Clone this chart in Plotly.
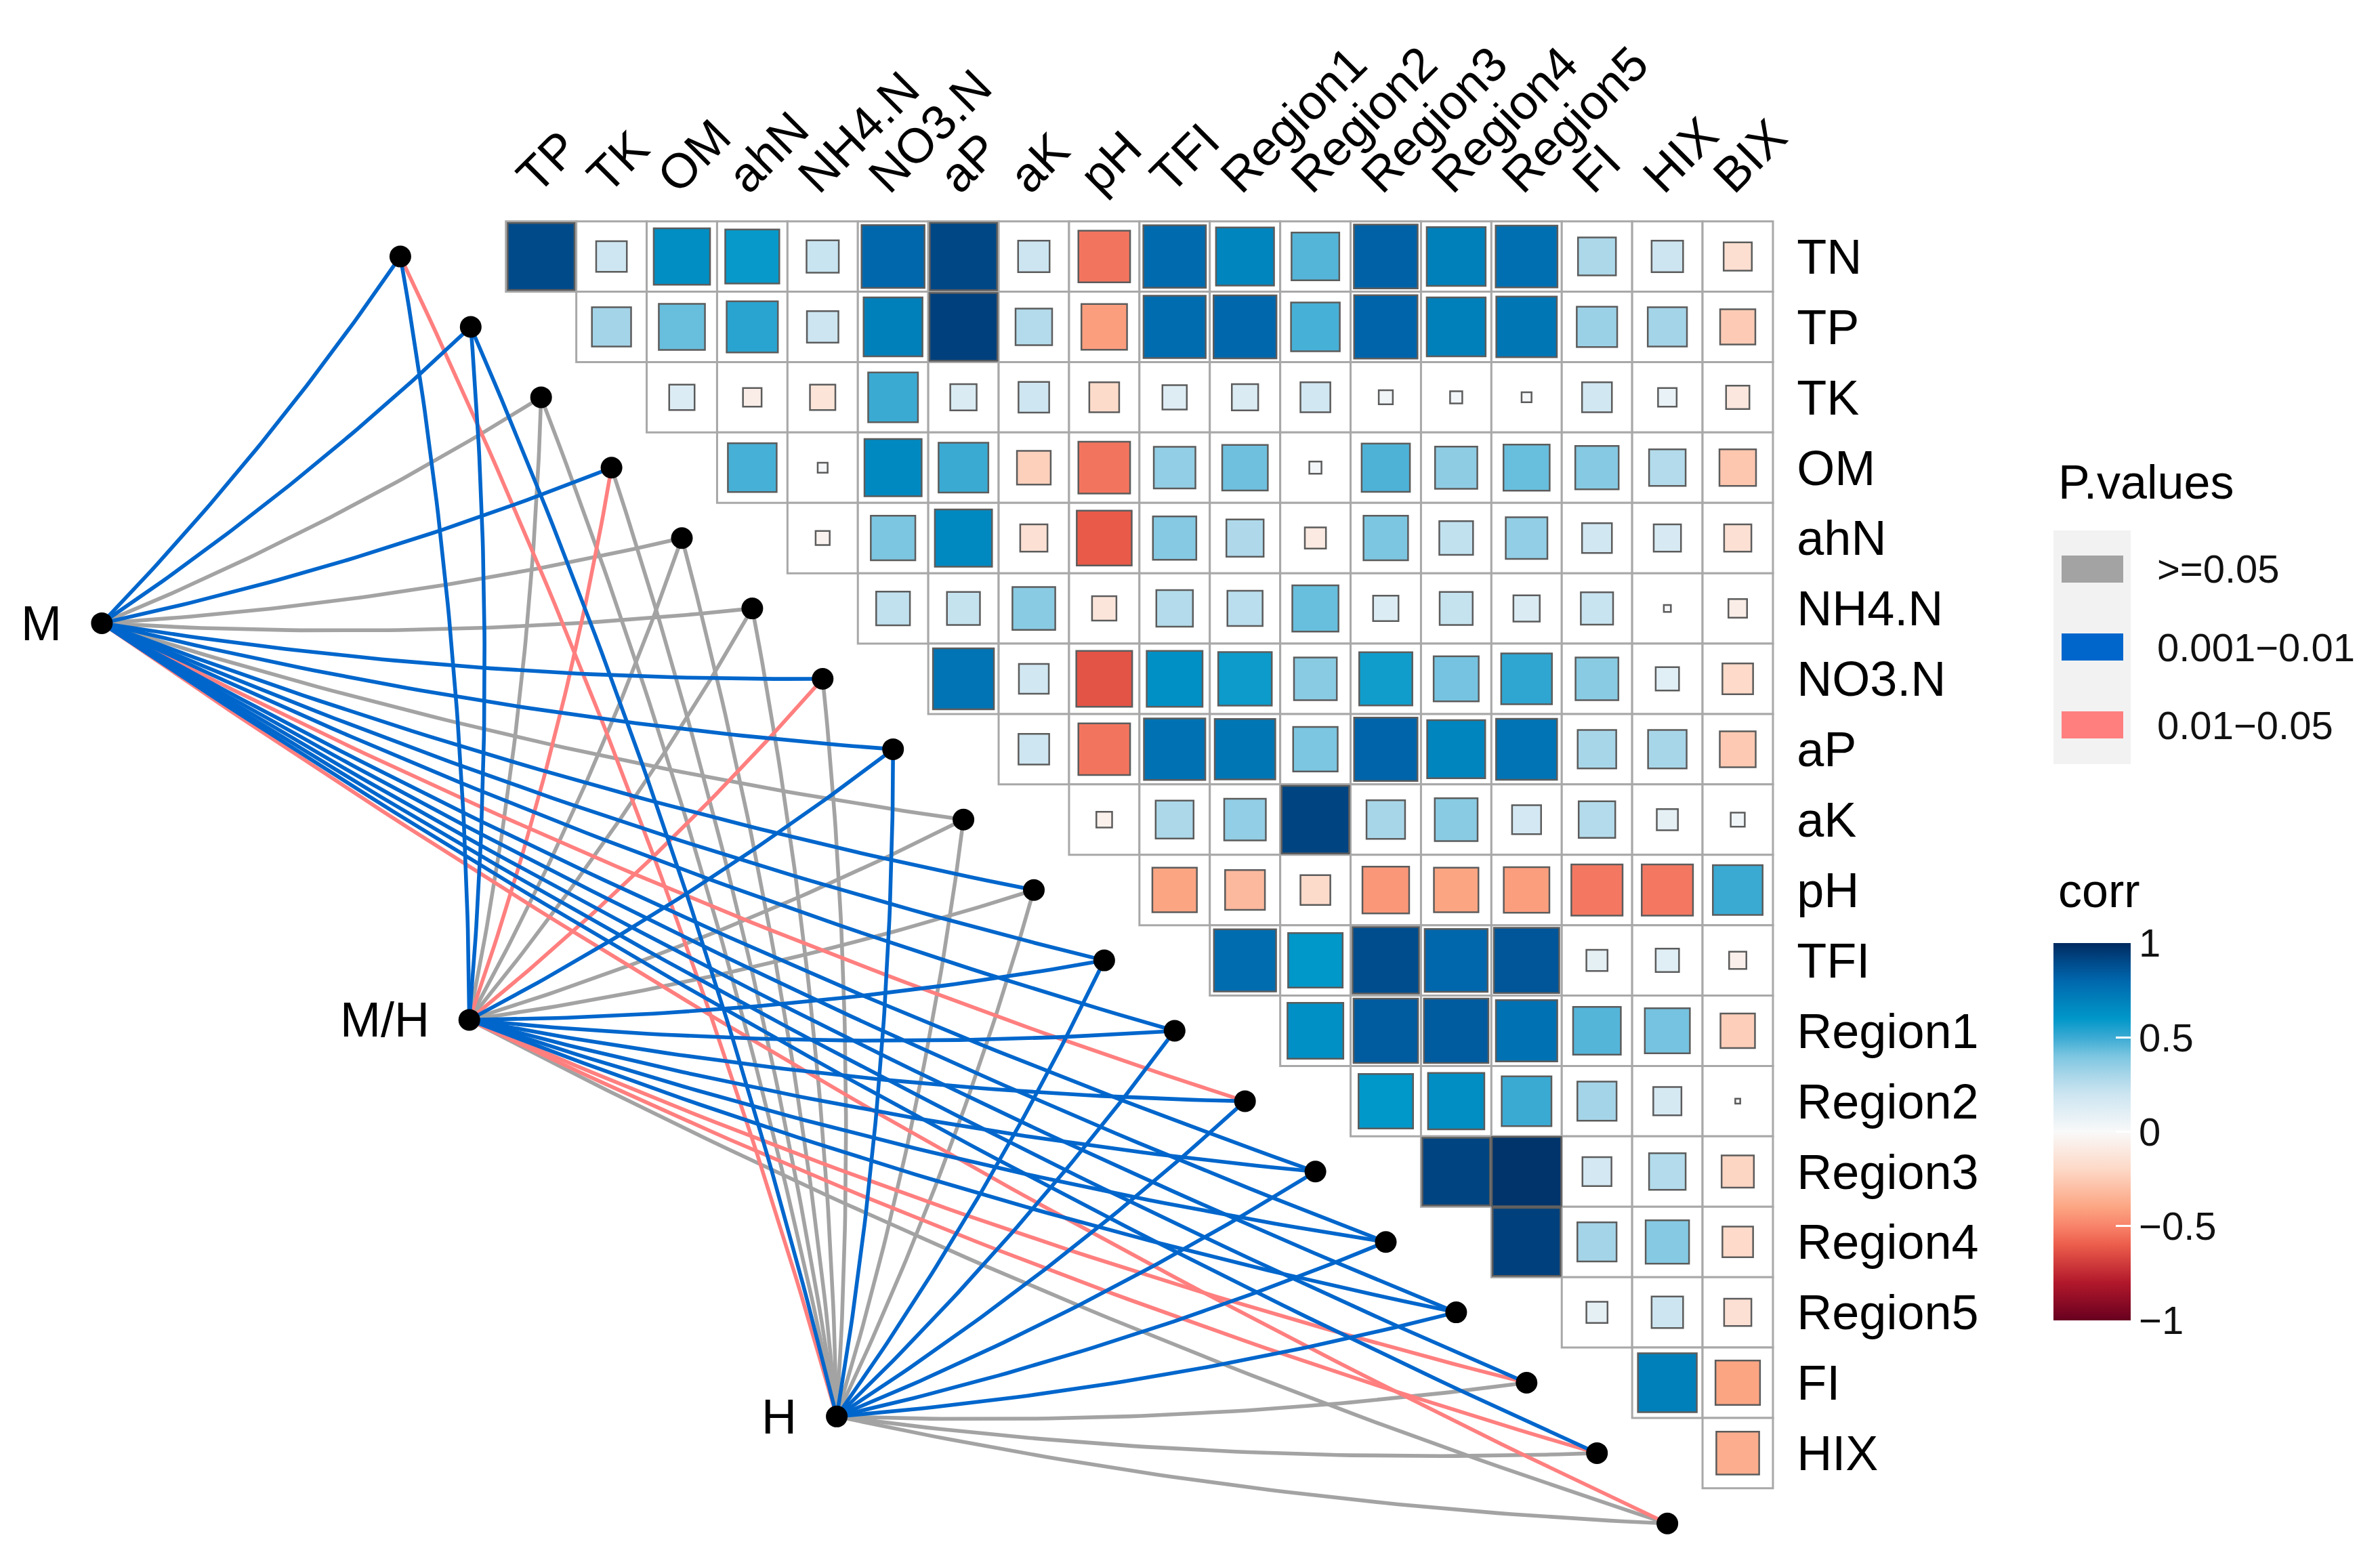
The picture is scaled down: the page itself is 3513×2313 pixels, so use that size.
import numpy as np
import plotly.graph_objects as go

# ---------------- data ----------------
row_vars = ["TN", "TP", "TK", "OM", "ahN", "NH4.N", "NO3.N", "aP", "aK", "pH",
            "TFI", "Region1", "Region2", "Region3", "Region4", "Region5", "FI", "HIX"]
col_vars = ["TP", "TK", "OM", "ahN", "NH4.N", "NO3.N", "aP", "aK", "pH", "TFI",
            "Region1", "Region2", "Region3", "Region4", "Region5", "FI", "HIX", "BIX"]

# upper-triangle correlations: row i holds columns i..17
corr_rows = [
    [0.90, 0.19, 0.64, 0.59, 0.21, 0.80, 0.91, 0.20, -0.54, 0.79, 0.68, 0.46, 0.82, 0.70, 0.77, 0.29, 0.20, -0.16],
    [0.31, 0.43, 0.53, 0.20, 0.70, 0.93, 0.27, -0.42, 0.78, 0.80, 0.48, 0.81, 0.70, 0.74, 0.33, 0.31, -0.25],
    [0.13, -0.07, -0.13, 0.50, 0.14, 0.19, -0.18, 0.12, 0.14, 0.18, 0.04, 0.03, 0.02, 0.18, 0.07, -0.11],
    [0.48, 0.02, 0.66, 0.50, -0.23, -0.54, 0.35, 0.42, 0.03, 0.47, 0.36, 0.43, 0.38, 0.27, -0.27],
    [-0.04, 0.40, 0.66, -0.15, -0.61, 0.38, 0.28, -0.09, 0.40, 0.23, 0.35, 0.18, 0.15, -0.15],
    [0.23, 0.22, 0.37, -0.12, 0.27, 0.25, 0.43, 0.13, 0.22, 0.14, 0.21, 0.01, -0.07],
    [0.75, 0.18, -0.63, 0.63, 0.58, 0.37, 0.57, 0.41, 0.52, 0.37, 0.11, -0.19],
    [0.19, -0.54, 0.76, 0.74, 0.40, 0.81, 0.68, 0.75, 0.30, 0.30, -0.26],
    [-0.05, 0.29, 0.35, 0.92, 0.30, 0.37, 0.17, 0.27, 0.09, 0.04],
    [-0.40, -0.32, -0.18, -0.44, -0.40, -0.42, -0.53, -0.53, 0.50],
    [0.78, 0.60, 0.89, 0.80, 0.86, 0.09, 0.11, -0.06],
    [0.63, 0.84, 0.84, 0.76, 0.46, 0.41, -0.24],
    [0.60, 0.64, 0.50, 0.31, 0.16, 0.005],
    [0.92, 0.97, 0.17, 0.27, -0.21],
    [0.93, 0.31, 0.38, -0.19],
    [0.09, 0.20, -0.15],
    [0.70, -0.40],
    [-0.37],
]

node_vars = row_vars + ["BIX"]
source_names = ["M", "M/H", "H"]
G, B, P = ">=0.05", "0.001\u22120.01", "0.01\u22120.05"
p_M = [B, B, G, B, G, G, B, B, G, B, B, B, P, B, B, B, B, B, P]
p_MH = [B, B, G, P, G, G, P, B, G, G, B, B, B, B, B, B, P, P, G]
p_H = [P, B, G, G, G, G, G, B, G, G, B, B, B, B, B, B, G, G, G]
p_by_source = [p_M, p_MH, p_H]
p_cats = [G, P, B]
legend_order = [G, B, P]
p_colors = {G: "#a3a3a3", B: "#0066cc", P: "#ff7f7f"}

corr_ticks = [-1, -0.5, 0, 0.5, 1]
corr_ticktext = ["\u22121", "\u22120.5", "0", "0.5", "1"]

# ---------------- geometry / styles ----------------
FONT = "Liberation Sans, Arial, sans-serif"
OFF = 8                      # page body margin
W, HGT = 3513, 2313
FW, FH = W - 2 * OFF, HGT - 2 * OFF
CELL = 103.9
X0, Y0 = 590.9 - OFF, 378.6 - OFF
xr = [-X0 / CELL, (FW - X0) / CELL]
yr = [(FH - Y0) / CELL, -Y0 / CELL]
src_start = np.array([-4.24, 5.21])
src_end = np.array([6.20, 16.48])
CURV = 0.042


def pxx(px):
    return (px - OFF) / FW


def pxy(py):
    return 1 - (py - OFF) / FH


colorscale = [
    [0.00, "#67001f"], [0.10, "#b2182b"], [0.20, "#ec5d4b"], [0.25, "#f8836a"],
    [0.30, "#fca583"], [0.40, "#fdd8c6"], [0.50, "#f9f9f9"], [0.60, "#cce5f1"],
    [0.65, "#a8d6e9"], [0.70, "#7cc6e1"], [0.75, "#3aaad3"], [0.80, "#0097c9"],
    [0.85, "#0080bb"], [0.90, "#0067ad"], [0.95, "#004a8a"], [1.00, "#002a5e"],
]

fig = go.Figure()

# grid cells
gx, gy = [], []
sx, sy, sv, ss = [], [], [], []
for i, row in enumerate(corr_rows):
    for k, r in enumerate(row):
        j = i + k
        gx.append(j + 2)
        gy.append(i)
        sx.append(j + 2)
        sy.append(i)
        sv.append(r)
        ss.append(max(np.sqrt(abs(r)) * CELL, 2))

fig.add_trace(go.Scatter(
    x=gx, y=gy, mode="markers", hoverinfo="skip",
    marker=dict(symbol="square", size=CELL, color="white", opacity=1,
                line=dict(color="#a8a8a8", width=3)),
))


# edges
def curve(p0, p1, n=60):
    p0 = np.asarray(p0, float)
    p1 = np.asarray(p1, float)
    d = p1 - p0
    ctrl = (p0 + p1) / 2 + CURV * np.array([-d[1], d[0]])
    t = np.linspace(0, 1, n)[:, None]
    return (1 - t) ** 2 * p0 + 2 * t * (1 - t) * ctrl + t ** 2 * p1


src_pos = [src_start + (s / (len(source_names) - 1)) * (src_end - src_start)
           for s in range(len(source_names))]

for cat in p_cats:
    ex, ey = [], []
    for s, plist in enumerate(p_by_source):
        for k, c in enumerate(plist):
            if c != cat:
                continue
            pts = curve(src_pos[s], (k, k))
            ex += list(pts[:, 0]) + [None]
            ey += list(pts[:, 1]) + [None]
    fig.add_trace(go.Scatter(x=ex, y=ey, mode="lines", hoverinfo="skip",
                             line=dict(color=p_colors[cat], width=5.6)))

# nodes
fig.add_trace(go.Scatter(
    x=list(range(len(node_vars))), y=list(range(len(node_vars))), mode="markers",
    text=node_vars, hoverinfo="text", marker=dict(size=32, color="black", opacity=1)))
fig.add_trace(go.Scatter(
    x=[p[0] for p in src_pos], y=[p[1] for p in src_pos], mode="markers",
    text=source_names, hoverinfo="text", marker=dict(size=32, color="black", opacity=1)))

# correlation squares
fig.add_trace(go.Scatter(
    x=sx, y=sy, mode="markers", hoverinfo="text",
    text=[f"{v:.2f}" for v in sv],
    marker=dict(symbol="square", size=ss, color=sv, colorscale=colorscale,
                cmin=-1, cmax=1, opacity=1, line=dict(color="#5c5c5c", width=2.5),
                showscale=True,
                colorbar=dict(
                    x=pxx(3031), xanchor="left", y=pxy(1670.5), yanchor="middle",
                    lenmode="pixels", len=557, thickness=114, thicknessmode="pixels",
                    xpad=0, ypad=0, outlinewidth=0,
                    tickvals=corr_ticks, ticktext=corr_ticktext,
                    ticks="inside", ticklen=22, tickwidth=3, tickcolor="white",
                    tickfont=dict(size=58, family=FONT, color="#111111"),
                ))))

annotations = []
for s, name in enumerate(source_names):
    annotations.append(dict(
        x=src_pos[s][0] - 0.55, y=src_pos[s][1], xref="x", yref="y",
        text=name, showarrow=False, xanchor="right", yanchor="middle",
        font=dict(size=72, family=FONT, color="black")))

# P.values legend (manual)
shapes = []
shapes.append(dict(type="rect", xref="paper", yref="paper",
                   x0=pxx(3031), x1=pxx(3145), y0=pxy(1128), y1=pxy(783),
                   fillcolor="#f2f2f2", line=dict(width=0), layer="below"))
annotations.append(dict(x=pxx(3036), y=pxy(712), xref="paper", yref="paper",
                        text="P.values", showarrow=False, xanchor="left", yanchor="middle",
                        font=dict(size=70, family=FONT, color="black")))
for idx, cat in enumerate(legend_order):
    cy = 840 + idx * 115
    shapes.append(dict(type="rect", xref="paper", yref="paper",
                       x0=pxx(3043), x1=pxx(3134), y0=pxy(cy + 20), y1=pxy(cy - 20),
                       fillcolor=p_colors[cat], line=dict(width=0)))
    annotations.append(dict(x=pxx(3182), y=pxy(cy), xref="paper", yref="paper",
                            text=cat, showarrow=False, xanchor="left", yanchor="middle",
                            font=dict(size=58, family=FONT, color="#111111")))
annotations.append(dict(x=pxx(3036), y=pxy(1315), xref="paper", yref="paper",
                        text="corr", showarrow=False, xanchor="left", yanchor="middle",
                        font=dict(size=70, family=FONT, color="black")))

fig.update_layout(
    width=FW, height=FH, margin=dict(l=0, r=0, t=0, b=0),
    paper_bgcolor="white", plot_bgcolor="white", showlegend=False,
    annotations=annotations, shapes=shapes,
    xaxis=dict(range=xr, side="top", anchor="free", position=pxy(326.6),
               tickvals=[j + 2 - 0.3 for j in range(len(col_vars))], ticktext=col_vars,
               tickangle=-45, tickfont=dict(size=72, family=FONT, color="black"),
               showgrid=False, zeroline=False, showline=False, ticks="",
               automargin=False, ticklabelstandoff=13),
    yaxis=dict(range=yr, side="right", anchor="free", position=pxx(2617.3),
               tickvals=list(range(len(row_vars))), ticktext=row_vars,
               tickfont=dict(size=72, family=FONT, color="black"),
               showgrid=False, zeroline=False, showline=False, ticks="",
               automargin=False, ticklabelstandoff=34),
)

fig.write_html("out.html")
